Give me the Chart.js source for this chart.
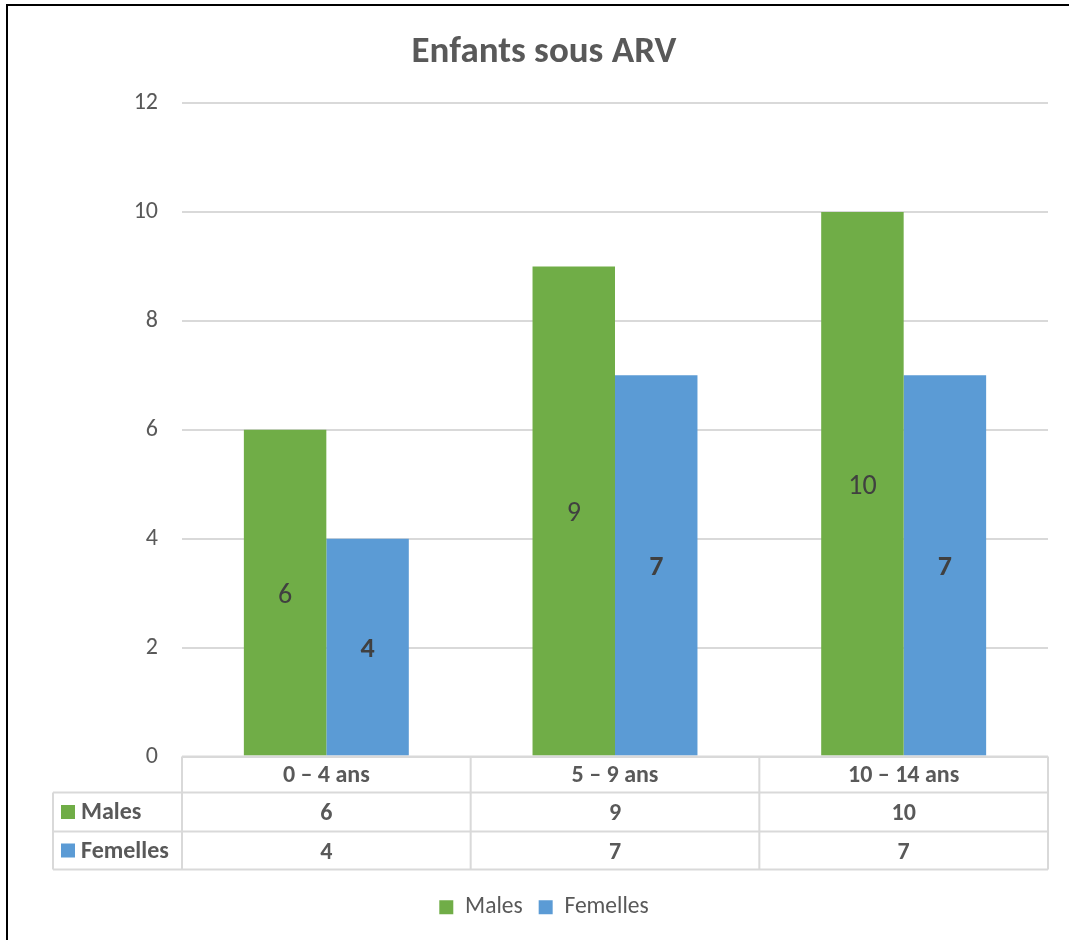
<!DOCTYPE html>
<html lang="fr">
<head>
<meta charset="utf-8">
<title>Enfants sous ARV</title>
<script src="https://cdn.jsdelivr.net/npm/chart.js@4.4.1/dist/chart.umd.min.js"></script>
<style>
  html, body { margin: 0; padding: 0; background: #fff; }
  #wrap { position: relative; width: 1069px; height: 940px; }
</style>
</head>
<body>
<div id="wrap"><canvas id="arvChart"></canvas></div>
<script>
// data
const categories = ['0 – 4 ans', '5 – 9 ans', '10 – 14 ans'];
const males = [6, 9, 10];
const femelles = [4, 7, 7];
const yTicks = [0, 2, 4, 6, 8, 10, 12];

const GREEN = '#70AD47';
const BLUE = '#5B9BD5';
const TEXT = '#595959';
const LABEL = '#404040';
const LINE = '#D9D9D9';
const FONT = 'Calibri, Carlito, Lato, sans-serif';
const PAD_LEFT = 40;

Chart.defaults.font.family = FONT;
Chart.defaults.color = TEXT;

// white background + black frame on top/left
const framePlugin = {
    id: 'frame',
    beforeDraw(chart) {
        const ctx = chart.ctx;
        ctx.save();
        ctx.fillStyle = '#fff';
        ctx.fillRect(0, 0, chart.width, chart.height);
        ctx.fillStyle = '#000';
        ctx.fillRect(6, 4, chart.width - 6, 2);
        ctx.fillRect(6, 4, 2, chart.height - 4);
        ctx.restore();
    }
};

// value written in the middle of each bar
const barLabelPlugin = {
    id: 'barLabels',
    afterDatasetsDraw(chart) {
        const ctx = chart.ctx;
        ctx.save();
        ctx.textAlign = 'center';
        ctx.textBaseline = 'middle';
        ctx.fillStyle = LABEL;
        chart.data.datasets.forEach((ds, i) => {
            const meta = chart.getDatasetMeta(i);
            ctx.font = (ds.labelBold ? 'bold ' : '') + '28px ' + FONT;
            meta.data.forEach((bar, j) => {
                // +3: digits sit a little high with a 'middle' baseline
                ctx.fillText(String(ds.data[j]), bar.x, (bar.y + bar.base) / 2 + 3);
            });
        });
        ctx.restore();
    }
};

// data table under the plot (header row comes from the x axis ticks)
const dataTablePlugin = {
    id: 'dataTable',
    afterDraw(chart) {
        const ctx = chart.ctx;
        const area = chart.chartArea;
        const x = chart.scales.x;
        const top = area.bottom;
        const rowY = [top, top + 36, top + 75, top + 113];
        const tableLeft = 53;
        const colW = (area.right - area.left) / categories.length;

        ctx.save();
        ctx.strokeStyle = LINE;
        ctx.lineWidth = 2;
        ctx.beginPath();
        // horizontal rules
        ctx.moveTo(area.left, rowY[0]); ctx.lineTo(area.right, rowY[0]);
        for (let r = 1; r < rowY.length; r++) {
            ctx.moveTo(tableLeft, rowY[r]); ctx.lineTo(area.right, rowY[r]);
        }
        // vertical rules
        ctx.moveTo(tableLeft, rowY[1]); ctx.lineTo(tableLeft, rowY[3]);
        for (let c = 0; c <= categories.length; c++) {
            const cx = area.left + c * colW;
            ctx.moveTo(cx, rowY[0]); ctx.lineTo(cx, rowY[3]);
        }
        ctx.stroke();

        ctx.font = 'bold 24px ' + FONT;
        ctx.textBaseline = 'middle';
        chart.data.datasets.forEach((ds, i) => {
            const cy = (rowY[i + 1] + rowY[i + 2]) / 2;
            ctx.fillStyle = ds.backgroundColor;
            ctx.fillRect(61, cy - 7, 14, 14);
            ctx.fillStyle = TEXT;
            ctx.textAlign = 'left';
            ctx.fillText(ds.label, 81, cy + 1);
            ctx.textAlign = 'center';
            ds.data.forEach((v, j) => {
                ctx.fillText(String(v), x.getPixelForValue(j), cy + 2);
            });
        });
        ctx.restore();
    }
};

new Chart(document.getElementById('arvChart'), {
    type: 'bar',
    data: {
        labels: categories,
        datasets: [
            { label: 'Males', data: males, backgroundColor: GREEN, labelBold: false },
            { label: 'Femelles', data: femelles, backgroundColor: BLUE, labelBold: true }
        ]
    },
    options: {
        responsive: true,
        maintainAspectRatio: false,
        animation: false,
        categoryPercentage: 0.5714,
        barPercentage: 1,
        layout: { padding: { left: PAD_LEFT, right: 21, top: 0, bottom: 11 } },
        scales: {
            x: {
                grid: { display: false, drawTicks: false },
                border: { display: false },
                ticks: { font: { size: 24, weight: 'bold' }, color: TEXT, padding: 5 },
                afterFit(scale) { scale.height = 123; }
            },
            y: {
                min: 0,
                max: 12,
                afterBuildTicks(scale) { scale.ticks = yTicks.map(v => ({ value: v })); },
                grid: { color: LINE, lineWidth: 2, drawTicks: false },
                border: { display: false },
                ticks: { font: { size: 24 }, color: TEXT, padding: 24 },
                afterFit(scale) { scale.width = 182 - PAD_LEFT; }
            }
        },
        plugins: {
            title: {
                display: true,
                text: 'Enfants sous ARV',
                color: TEXT,
                font: { size: 37, weight: 'bold' },
                padding: { top: 31, bottom: 27.6 }
            },
            legend: {
                position: 'bottom',
                labels: { boxWidth: 14, boxHeight: 14, padding: 16, font: { size: 23.5 }, color: TEXT }
            },
            tooltip: { enabled: false }
        }
    },
    plugins: [framePlugin, barLabelPlugin, dataTablePlugin]
});
</script>
</body>
</html>
